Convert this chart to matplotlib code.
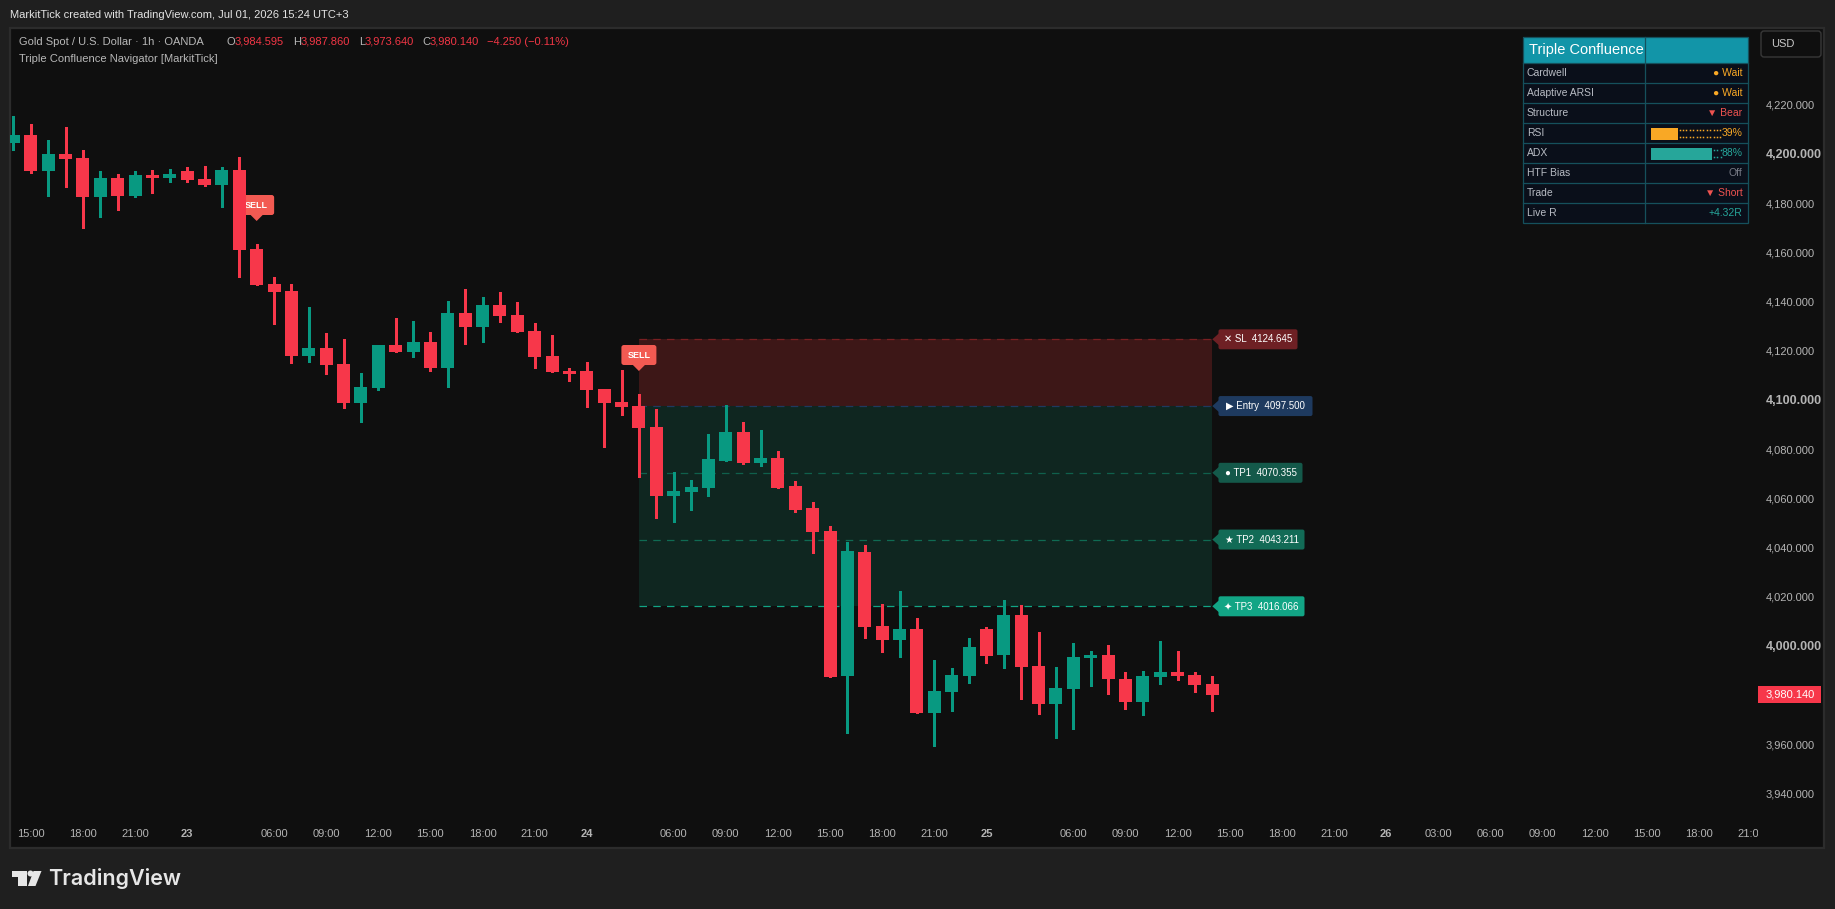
import numpy as np
import matplotlib
matplotlib.use("Agg")
import matplotlib.pyplot as plt
from matplotlib.patches import Rectangle, Polygon, FancyBboxPatch, Circle
from matplotlib.transforms import Bbox

# gold 1h candles, oldest first
opens = [4204.5, 4207.7, 4193.1, 4200.0, 4198.4, 4182.5, 4190.2, 4182.9, 4191.5, 4190.2,
         4193.1, 4189.8, 4187.4, 4193.5, 4161.4, 4147.1, 4144.3, 4117.9, 4121.1, 4114.6,
         4098.7, 4104.8, 4122.3, 4119.5, 4123.5, 4112.9, 4135.3, 4129.6, 4138.6, 4134.5,
         4128.0, 4117.9, 4111.7, 4111.7, 4104.4, 4099.1, 4097.5, 4089.0, 4060.9, 4062.5,
         4064.2, 4075.2, 4086.9, 4074.3, 4076.4, 4065.0, 4056.0, 4046.7, 3987.7, 4038.2,
         4008.0, 4002.4, 4006.8, 3972.7, 3981.2, 3987.7, 4006.8, 3996.2, 4012.5, 3991.8,
         3976.3, 3982.4, 3995.0, 3996.2, 3986.5, 3977.1, 3987.3, 3989.3, 3988.1, 3984.595]
highs = [4215.5, 4212.2, 4205.7, 4211.0, 4201.6, 4193.1, 4191.9, 4193.1, 4193.5, 4193.9,
         4194.7, 4195.1, 4194.7, 4198.8, 4163.4, 4150.0, 4147.1, 4137.8, 4127.2, 4124.8,
         4110.9, 4122.3, 4133.3, 4132.1, 4127.6, 4140.2, 4145.1, 4141.9, 4143.9, 4139.8,
         4131.3, 4126.4, 4112.9, 4115.4, 4104.4, 4112.1, 4102.4, 4096.3, 4070.7, 4067.4,
         4086.1, 4097.9, 4091.0, 4087.8, 4079.2, 4067.0, 4058.5, 4048.7, 4042.2, 4041.0,
         4017.0, 4022.3, 4011.3, 3994.2, 3991.0, 4003.2, 4007.6, 4018.6, 4016.6, 4005.6,
         3991.4, 4001.1, 3997.9, 4000.3, 3989.3, 3989.8, 4001.9, 3997.9, 3989.3, 3987.86]
lows = [4201.8, 4192.4, 4182.9, 4186.6, 4169.9, 4174.4, 4177.2, 4182.5, 4184.1, 4188.6,
        4188.6, 4187.0, 4178.5, 4150.0, 4146.7, 4130.9, 4115.0, 4115.4, 4110.5, 4096.7,
        4091.0, 4104.0, 4119.5, 4117.4, 4111.7, 4105.3, 4122.7, 4123.5, 4131.7, 4127.6,
        4112.9, 4111.3, 4107.7, 4097.1, 4080.8, 4093.9, 4068.6, 4051.9, 4050.3, 4055.2,
        4060.9, 4075.2, 4073.9, 4073.1, 4064.2, 4054.4, 4037.7, 3987.3, 3964.5, 4003.2,
        3997.5, 3995.4, 3972.7, 3959.2, 3973.5, 3984.9, 3993.0, 3991.0, 3978.4, 3972.3,
        3962.5, 3966.2, 3983.7, 3980.4, 3974.3, 3971.9, 3984.5, 3986.1, 3981.2, 3973.64]
closes = [4207.7, 4193.1, 4200.0, 4198.0, 4182.5, 4190.2, 4182.9, 4191.5, 4190.2, 4191.9,
          4189.4, 4187.4, 4193.5, 4161.0, 4146.7, 4143.9, 4117.9, 4121.1, 4114.2, 4098.7,
          4105.3, 4122.3, 4119.5, 4123.5, 4112.9, 4135.3, 4129.6, 4138.6, 4134.1, 4127.6,
          4117.4, 4111.3, 4110.5, 4104.0, 4098.7, 4097.1, 4088.6, 4060.9, 4062.9, 4064.6,
          4075.9, 4086.9, 4074.3, 4076.4, 4064.2, 4055.2, 4046.3, 3987.3, 4038.6, 4007.6,
          4002.4, 4006.8, 3972.7, 3981.6, 3988.1, 3999.5, 3995.8, 4012.5, 3991.4, 3976.3,
          3982.8, 3995.4, 3996.2, 3986.5, 3977.1, 3987.7, 3989.3, 3987.7, 3984.1, 3980.14]

time_ticks = [1, 4, 7, 10, 15, 18, 21, 24, 27, 30, 33, 38, 41, 44, 47, 50, 53, 56, 61, 64,
              67, 70, 73, 76, 79, 82, 85, 88, 91, 94, 97, 100]
time_labels = ["15:00", "18:00", "21:00", "23", "06:00", "09:00", "12:00", "15:00", "18:00",
               "21:00", "24", "06:00", "09:00", "12:00", "15:00", "18:00", "21:00", "25",
               "06:00", "09:00", "12:00", "15:00", "18:00", "21:00", "26", "03:00", "06:00",
               "09:00", "12:00", "15:00", "18:00", "21:00"]
price_ticks = list(range(3940, 4221, 20))

sell_bars = [14, 36]
zone_start, zone_end = 36, 69
levels = [("\u2715", "SL", 4124.645, "#7a1f22", "#6e2024", 1298),
          ("\u25b6", "Entry", 4097.500, "#1e3a5f", "#1e3a5f", 1313),
          ("\u25cf", "TP1", 4070.355, "#0f604c", "#14594a", 1303),
          ("\u2605", "TP2", 4043.211, "#0f6b53", "#126b56", 1305),
          ("\u2726", "TP3", 4016.066, "#12a585", "#12a585", 1305)]
rsi_value = 39
adx_value = 88

RED = "#f7374a"
GREEN = "#089981"
OUTER = "#1f1f1f"
PANE = "#0f0f0f"
GREY = "#b4b4b4"
TXT = ["Liberation Sans", "DejaVu Sans"]

plt.rcParams["font.family"] = TXT
W, H = 1835, 909
fig = plt.figure(figsize=(W / 100, H / 100), dpi=100, facecolor=OUTER)

# whole-figure layers in pixel units, one under the chart and one over it
def pixel_axes(z):
    a = fig.add_axes([0, 0, 1, 1], zorder=z)
    a.set_xlim(0, W)
    a.set_ylim(H, 0)
    a.axis("off")
    a.patch.set_alpha(0)
    return a

under = pixel_axes(0)
over = pixel_axes(2)
under.add_patch(Rectangle((10, 28), 1814, 820, fc=PANE, ec="#2c2c2c", lw=1.6))

# chart area, bar index on x and price on y
left, right, top, bottom = 10, 1758, 28, 820
ax = fig.add_axes([left / W, 1 - bottom / H, (right - left) / W, (bottom - top) / H], zorder=1)
ax.patch.set_alpha(0)
ax.set_xlim((left - 13.4) / 17.375, (right - 13.4) / 17.375)
ax.set_ylim(3929.16, 4251.24)
for s in ax.spines.values():
    s.set_visible(False)

def py(price):
    return H - ax.transData.transform((0, price))[1]

def px(bar):
    return ax.transData.transform((bar, 0))[0]

# risk and reward zones
sl, entry, tp3 = levels[0][2], levels[1][2], levels[4][2]
ax.fill_between([zone_start, zone_end], entry, sl, color="#3d1717", lw=0, zorder=1)
ax.fill_between([zone_start, zone_end], tp3, entry, color="#0f2620", lw=0, zorder=1)
for sym, name, price, line_col, box_col, box_right in levels:
    ax.plot([zone_start, zone_end + 0.1], [price, price], color=line_col, lw=0.9,
            ls=(0, (6, 5)), zorder=2)
    y = py(price)
    over.add_patch(Polygon([(1212.3, y), (1219, y - 6), (1219, y + 6)], fc=box_col, lw=0))
    over.add_patch(FancyBboxPatch((1220, y - 8.5), box_right - 1222, 17,
                                  boxstyle="round,pad=1.5,rounding_size=2", fc=box_col, lw=0))
    over.text((1218.3 + box_right) / 2, y, f"{sym} {name}  {price:.3f}", color="white",
              fontsize=7, ha="center", va="center")

# sell bubbles sit behind the candles
for b in sell_bars:
    x = px(b)
    tip = py(highs[b]) - 23
    bub = dict(transform=over.transData, clip_on=False, zorder=3, lw=0, fc="#f25a52")
    ax.add_patch(Polygon([(x - 6, tip - 6), (x + 6, tip - 6), (x, tip)], **bub))
    ax.add_patch(FancyBboxPatch((x - 16, tip - 24.5), 32, 17,
                                boxstyle="round,pad=1.5,rounding_size=2.5", **bub))
    ax.text(x, tip - 16, "SELL", color="white", fontsize=6.5, fontweight="bold", ha="center",
            va="center", transform=over.transData, zorder=3.5)

# candles
bars = np.arange(len(opens))
o = np.array(opens)
c = np.array(closes)
cols = [GREEN if c[i] > o[i] else RED for i in bars]
ax.vlines(bars, lows, highs, colors=cols, lw=0.8, zorder=4, antialiased=False)
ax.bar(bars, np.abs(c - o), bottom=np.minimum(o, c), width=13 / 17.375, color=cols, lw=0,
       zorder=5, antialiased=False)

# axes ticks
ax.set_xticks(time_ticks)
ax.set_xticklabels(time_labels)
ax.tick_params(axis="x", length=0, pad=6.5, labelcolor=GREY, labelsize=8)
ax.yaxis.tick_right()
ax.set_yticks(price_ticks)
ax.set_yticklabels([f"{p:,.3f}" for p in price_ticks])
ax.tick_params(axis="y", length=0, pad=5.5, labelcolor=GREY, labelsize=8)
for lab, t in zip(ax.get_xticklabels(), time_labels):
    lab.set_clip_on(True)
    lab.set_clip_box(Bbox([[0, 0], [right, H]]))
    if len(t) == 2:
        lab.set_fontweight("bold")
for lab, p in zip(ax.get_yticklabels(), price_ticks):
    if p % 100 == 0:
        lab.set_fontweight("bold")
        lab.set_fontsize(9)

# last price tag
last_y = py(closes[-1])
over.add_patch(Rectangle((1758, last_y - 8.5), 62.5, 17, fc=RED, lw=0))
over.text(1765.7, last_y, f"{closes[-1]:,.3f}", color="white", fontsize=8, va="center")

# currency button
over.add_patch(FancyBboxPatch((1762, 32), 58, 24, boxstyle="round,pad=1,rounding_size=3",
                              fc=PANE, ec="#383838", lw=1))
over.text(1770.7, 44.3, "USD", color="#c8c8c8", fontsize=8, va="center")

# header text
over.text(10, 14.7, "MarkitTick created with TradingView.com, Jul 01, 2026 15:24 UTC+3",
          color="#e4e4e4", fontsize=8, va="center")
over.text(18.6, 41.7, "Gold Spot / U.S. Dollar \u00b7 1h \u00b7 OANDA", color="#b8b8b8", fontsize=8,
          va="center")
over.text(18.6, 59, "Triple Confluence Navigator [MarkitTick]", color="#b8b8b8", fontsize=8,
          va="center")
ohlc = [("O", opens[-1], 226.5, 234.4), ("H", highs[-1], 293.3, 300.4),
        ("L", lows[-1], 359, 364.4), ("C", closes[-1], 422, 429.6)]
for let, val, x1, x2 in ohlc:
    over.text(x1, 41.7, let, color="#b8b8b8", fontsize=8, va="center")
    over.text(x2, 41.7, f"{val:,.3f}", color="#f23645", fontsize=8, va="center")
over.text(487, 41.7, "\u22124.250 (\u22120.11%)", color="#f23645", fontsize=8, va="center")

# status table
t_left, t_mid, t_right = 1523.3, 1645.3, 1747.7
row_y = [63.3, 83.3, 103.3, 123.3, 143.3, 163.3, 183.3, 203.3, 223.3]
EDGE = "#15505c"
over.add_patch(Rectangle((t_left, 36.7), t_right - t_left, 26.6, fc="#1295a8", lw=0))
over.add_patch(Rectangle((t_left, 63.3), t_right - t_left, 160, fc="#0a0f1a", lw=0))
over.add_patch(Rectangle((t_left, 36.7), t_right - t_left, 186.6, fc="none", ec=EDGE, lw=0.9))
over.plot([t_mid, t_mid], [36.7, 223.3], color=EDGE, lw=0.9)
for y in row_y[:-1]:
    over.plot([t_left, t_right], [y, y], color=EDGE, lw=0.9)
over.text(1529, 49.6, "Triple Confluence", color="white", fontsize=10.5, va="center")

rows = [("Cardwell", "\u25cf Wait", "#f9a825"), ("Adaptive ARSI", "\u25cf Wait", "#f9a825"),
        ("Structure", "\u25bc Bear", "#ef5350"), ("RSI", f"{rsi_value}%", "#f9a825"),
        ("ADX", f"{adx_value}%", "#26a69a"), ("HTF Bias", "Off", "#787b86"),
        ("Trade", "\u25bc Short", "#ef5350"), ("Live R", "+4.32R", "#26a69a")]
for i, (name, val, col) in enumerate(rows):
    y = row_y[i] + 10
    over.text(1526.7, y, name, color="#b8bcc4", fontsize=7.5, va="center")
    over.text(1742.6, y, val, color=col, fontsize=7.5, ha="right", va="center")

# progress bars with their dotted remainder
bar_x, bar_w = 1651, 69.7
for i, val, col in [(3, rsi_value, "#f9a825"), (4, adx_value, "#26a69a")]:
    y = row_y[i] + 4.7
    fill = bar_w * val / 100
    over.add_patch(Rectangle((bar_x, y), fill, 12, fc=col, lw=0))
    dots = np.arange(bar_x + fill + 1.5, bar_x + bar_w, 3.4)
    over.plot(dots, np.full(len(dots), y + 1.8), ls="", marker="s", ms=1.1, mew=0, color=col)
    over.plot(dots, np.full(len(dots), y + 8.5), ls="", marker="s", ms=1.1, mew=0, color=col)

# footer logo
LOGO = "#e6e6e6"
over.add_patch(Polygon([(12, 871), (27, 871), (27, 886), (17.5, 886), (17.5, 876.5), (12, 876.5)],
                       fc=LOGO, lw=0))
over.add_patch(Circle((30.5, 873.5), 3.0, fc=LOGO, lw=0))
over.add_patch(Polygon([(33.5, 871), (41.5, 871), (35.5, 886), (28, 886)], fc=LOGO, lw=0))
over.text(48.5, 878.5, "TradingView", color=LOGO, fontsize=15.5, va="center", family="Inter",
          fontweight="semibold")

fig.savefig("out.png", dpi=100, facecolor=OUTER)
